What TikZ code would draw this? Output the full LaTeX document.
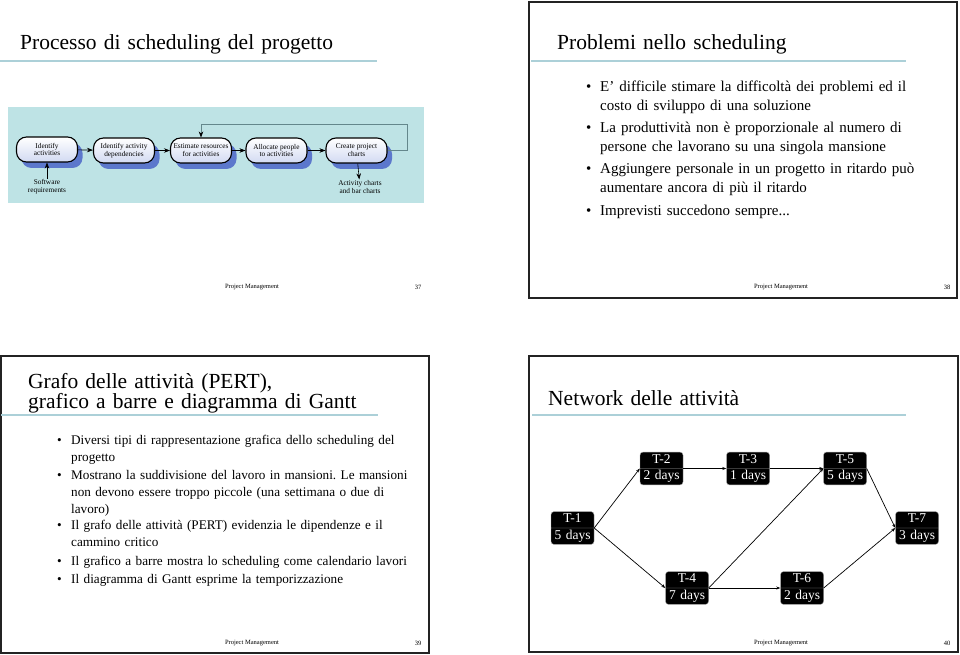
\documentclass[tikz,border=0pt]{standalone}
\usepackage{fontspec}
\setmainfont{Liberation Serif}
\usetikzlibrary{arrows.meta, positioning, calc, shadows, shapes.multipart}
\frenchspacing

\definecolor{ruleblue}{RGB}{172, 208, 216}
\definecolor{diagcyan}{RGB}{190, 227, 229}
\definecolor{boxlav}{RGB}{210, 218, 242}
\definecolor{shadeblue}{RGB}{92, 120, 204}
\definecolor{loopgray}{RGB}{100, 135, 140}
\definecolor{framegray}{RGB}{35, 35, 35}

\begin{document}
\begin{tikzpicture}[x=1pt, y=-1pt,
  slidetitle/.style={anchor=base west, inner sep=0pt, text width=360pt, align=left, font=\fontsize{21.5}{18}\selectfont},
  titlerule/.style={ruleblue, line width=2pt},
  slideframe/.style={draw=framegray, line width=1.2pt},
  bulletdot/.style={anchor=base west, inner sep=0pt},
  bulletitem/.style={anchor=base west, inner sep=0pt, text width=345pt, align=left},
  footer/.style={inner sep=0pt, font=\fontsize{6.5}{7}\selectfont},
  procbox/.style={draw=black, line width=1.1pt, rounded corners=10pt, top color=white, bottom color=boxlav,
    minimum width=61pt, minimum height=25pt, inner sep=1pt, align=center, font=\fontsize{7.3}{7.8}\selectfont,
    drop shadow={shadow xshift=5pt, shadow yshift=-6pt, fill=shadeblue, opacity=1}},
  flow/.style={-{Stealth[length=6pt, width=4.5pt]}, line width=0.6pt},
  task/.style={rectangle split, rectangle split parts=2, draw=gray!70, fill=black, text=white,
    rounded corners=3pt, text width=39pt, align=center, inner xsep=2pt, inner ysep=1pt,
    font=\fontsize{13.5}{14}\selectfont},
  link/.style={-{Stealth[length=4pt, width=3pt]}, line width=0.7pt}]

  \useasboundingbox (0,0) rectangle (960,655);
  \fill[white] (0,0) rectangle (960,655);

  % Slide 37: scheduling process
  \node[slidetitle] (title37) at (20,50) {Processo di scheduling del progetto};
  \draw[titlerule] (0,61) -- (377,61);
  \fill[diagcyan] (8,107) rectangle (424,203);

  \node[procbox] (identify) at (47,149.5) {Identify\\activities};
  \node[procbox] (depend) at (124,150.5) {Identify activity\\dependencies};
  \node[procbox] (estimate) at (201,150.5) {Estimate resources\\for activities};
  \node[procbox] (allocate) at (276.5,150.5) {Allocate people\\to activities};
  \node[procbox] (create) at (356.5,150.5) {Create project\\charts};

  \node[inner sep=1pt, align=center, font=\fontsize{7.3}{7.6}\selectfont] (swreq) at (47,187) {Software\\requirements};
  \node[inner sep=1pt, align=center, font=\fontsize{7.3}{7.6}\selectfont] (charts) at (360,187) {Activity charts\\and bar charts};

  \draw[flow] (identify) -- (depend);
  \draw[flow] (depend) -- (estimate);
  \draw[flow] (estimate) -- (allocate);
  \draw[flow] (allocate) -- (create);
  \draw[flow] (swreq) -- (identify);
  \draw[flow] (create) -- (charts);

  % feedback loop
  \coordinate (loopturn) at (407,124);
  \draw[loopgray, line width=0.6pt, -{Stealth[length=6pt, width=4.5pt, color=black]}]
    (create.east) -| (loopturn) -| (estimate.north);

  \node[footer] (foot37) at (252,287) {Project Management};
  \node[footer] (num37) at (418,287) {37};

  % Slide 38: problems
  \draw[slideframe] (529,2) rectangle (957,298);
  \node[slidetitle] (title38) at (557,50) {Problemi nello scheduling};
  \draw[titlerule] (531,61) -- (906,61);

  \begin{scope}[font=\fontsize{15}{19}\selectfont]
    \node[bulletdot] (dot381) at (586,92) {•};
    \node[bulletitem] (item381) at (600,92) {E’ difficile stimare la difficoltà dei problemi ed il\\costo di sviluppo di una soluzione};
    \node[bulletdot] (dot382) at (586,133) {•};
    \node[bulletitem] (item382) at (600,133) {La produttività non è proporzionale al numero di\\persone che lavorano su una singola mansione};
    \node[bulletdot] (dot383) at (586,174) {•};
    \node[bulletitem] (item383) at (600,174) {Aggiungere personale in un progetto in ritardo può\\aumentare ancora di più il ritardo};
    \node[bulletdot] (dot384) at (586,215) {•};
    \node[bulletitem] (item384) at (600,215) {Imprevisti succedono sempre...};
  \end{scope}

  \node[footer] (foot38) at (781,287) {Project Management};
  \node[footer] (num38) at (947,287) {38};

  % Slide 39: PERT, bar chart and Gantt
  \draw[slideframe] (1,356) rectangle (429,653);
  \node[slidetitle] (title39) at (28,388) {Grafo delle attività (PERT),\\grafico a barre e diagramma di Gantt};
  \draw[titlerule] (1,415) -- (378,415);

  \begin{scope}[font=\fontsize{13.2}{17}\selectfont]
    \node[bulletdot] (dot391) at (57,444.5) {•};
    \node[bulletitem] (item391) at (71,444.5) {Diversi tipi di rappresentazione grafica dello scheduling del\\progetto};
    \node[bulletdot] (dot392) at (57,479.5) {•};
    \node[bulletitem] (item392) at (71,479.5) {Mostrano la suddivisione del lavoro in mansioni. Le mansioni\\non devono essere troppo piccole (una settimana o due di\\lavoro)};
    \node[bulletdot] (dot393) at (57,529.5) {•};
    \node[bulletitem] (item393) at (71,529.5) {Il grafo delle attività (PERT) evidenzia le dipendenze e il\\cammino critico};
    \node[bulletdot] (dot394) at (57,565.5) {•};
    \node[bulletitem] (item394) at (71,565.5) {Il grafico a barre mostra lo scheduling come calendario lavori};
    \node[bulletdot] (dot395) at (57,583.5) {•};
    \node[bulletitem] (item395) at (71,583.5) {Il diagramma di Gantt esprime la temporizzazione};
  \end{scope}

  \node[footer] (foot39) at (252,643) {Project Management};
  \node[footer] (num39) at (418,643) {39};

  % Slide 40: activity network
  \draw[slideframe] (529,356) rectangle (958,652);
  \node[slidetitle] (title40) at (548,405) {Network delle attività};
  \draw[titlerule] (532,415) -- (906,415);

  \node[task] (t1) at (572.5,528) {\strut T-1\nodepart{two}\strut 5 days};
  \node[task] (t2) at (661.5,468.5) {\strut T-2\nodepart{two}\strut 2 days};
  \node[task] (t3) at (748,468.5) {\strut T-3\nodepart{two}\strut 1 days};
  \node[task] (t5) at (845,468.5) {\strut T-5\nodepart{two}\strut 5 days};
  \node[task] (t7) at (917,528) {\strut T-7\nodepart{two}\strut 3 days};
  \node[task] (t4) at (687,588) {\strut T-4\nodepart{two}\strut 7 days};
  \node[task] (t6) at (802,588) {\strut T-6\nodepart{two}\strut 2 days};

  \draw[link] (t1.east) -- (t2.west);
  \draw[link] (t1.east) -- (t4.west);
  \draw[link] (t2.east) -- (t3.west);
  \draw[link] (t3.east) -- (t5.west);
  \draw[link] (t4.east) -- (t5.west);
  \draw[link] (t4.east) -- (t6.west);
  \draw[link] (t5.east) -- (t7.west);
  \draw[link] (t6.east) -- (t7.west);

  \node[footer] (foot40) at (781,643) {Project Management};
  \node[footer] (num40) at (947,643) {40};
\end{tikzpicture}
\end{document}
